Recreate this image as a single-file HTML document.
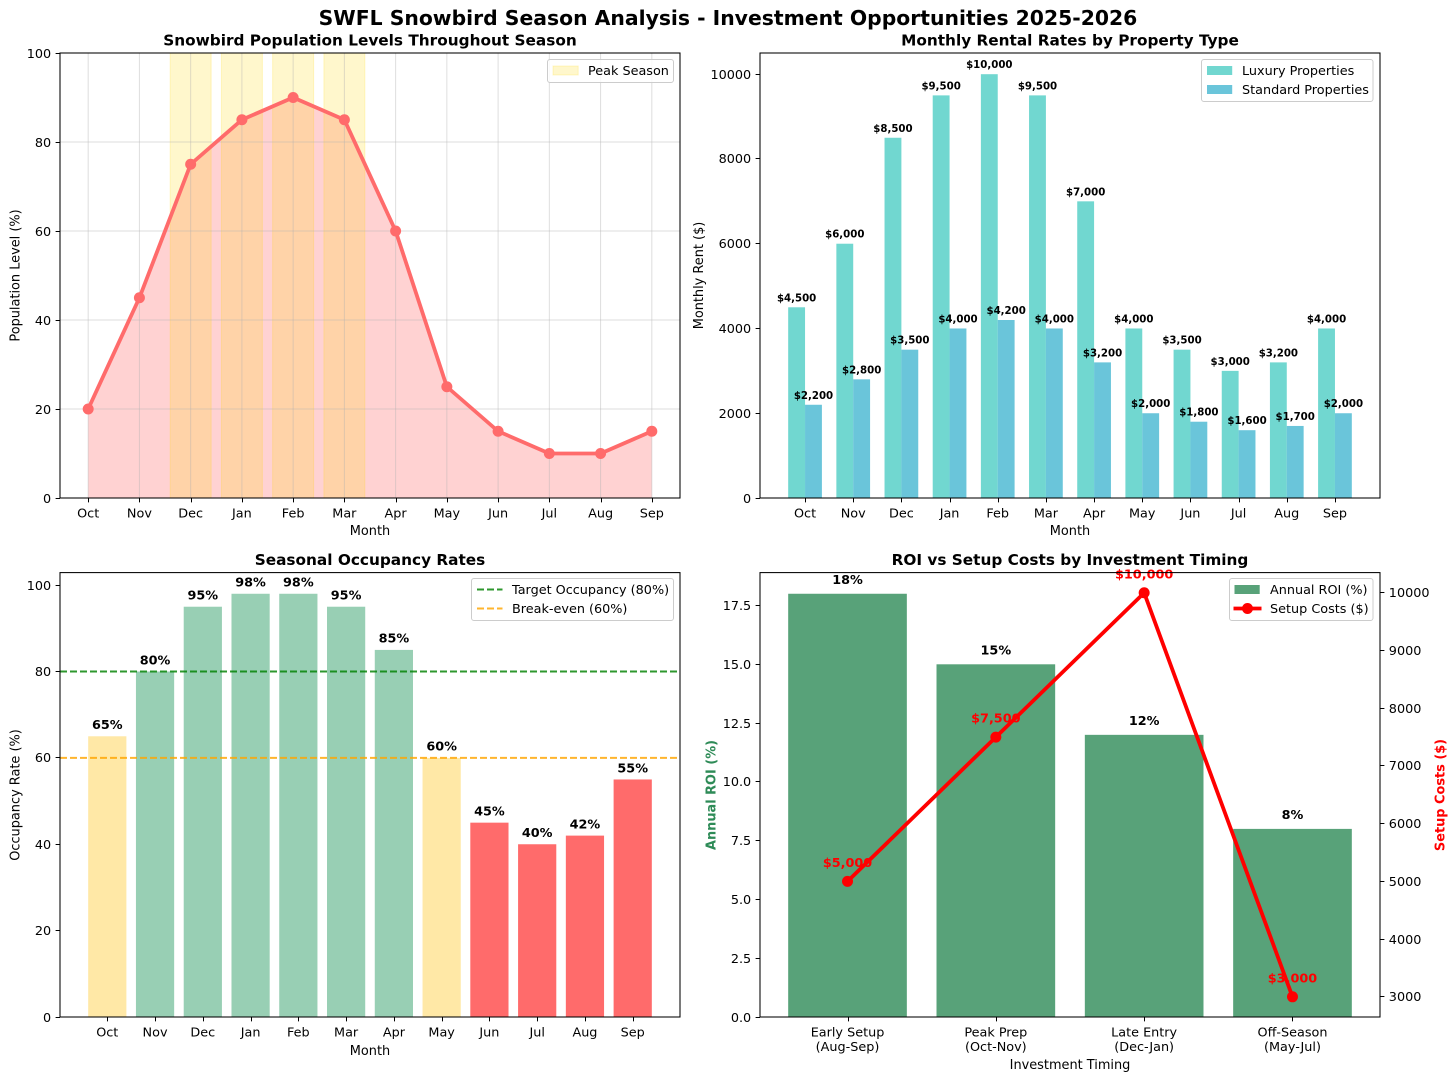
<!DOCTYPE html>
<html lang="en">
<head>
<meta charset="utf-8">
<title>SWFL Snowbird Season Analysis</title>
<style>
html,body{margin:0;padding:0;background:#fff;}
body{width:1456px;height:1081px;overflow:hidden;}
svg{display:block;font-family:"DejaVu Sans","Liberation Sans",sans-serif;fill:#000;}
text{white-space:pre;}
.tick{font-size:12.8px;}
.lab{font-size:12.9px;}
.ttl{font-size:15.3px;font-weight:bold;text-anchor:middle;}
.leg{font-size:12.8px;}
.spine{fill:none;stroke:#000;stroke-width:1.05;}
.box{fill:#fff;fill-opacity:.8;stroke:#ccc;stroke-width:1;}
</style>
</head>
<body>
<svg id="fig" xmlns="http://www.w3.org/2000/svg" width="1456" height="1081" viewBox="0 0 1456 1081">
  <rect x="0" y="0" width="1456" height="1081" fill="#fff"/>
  <g id="p1"></g>
  <g id="p2"></g>
  <g id="p3"></g>
  <g id="p4"></g>

  <text x="728" y="25" text-anchor="middle" style="font-size:20.35px;font-weight:bold">SWFL Snowbird Season Analysis - Investment Opportunities 2025-2026</text>

  <text class="ttl" x="370" y="45.5">Snowbird Population Levels Throughout Season</text>
  <text class="ttl" x="1070" y="45.5">Monthly Rental Rates by Property Type</text>
  <text class="ttl" x="370" y="565">Seasonal Occupancy Rates</text>
  <text class="ttl" x="1070" y="565">ROI vs Setup Costs by Investment Timing</text>

  <text class="lab" x="370" y="535" text-anchor="middle">Month</text>
  <text class="lab" x="1070" y="535" text-anchor="middle">Month</text>
  <text class="lab" x="370" y="1055" text-anchor="middle">Month</text>
  <text class="lab" x="1070" y="1069" text-anchor="middle">Investment Timing</text>

  <text class="lab" transform="translate(19.5,275.5) rotate(-90)" text-anchor="middle">Population Level (%)</text>
  <text class="lab" transform="translate(703,275.5) rotate(-90)" text-anchor="middle">Monthly Rent ($)</text>
  <text class="lab" transform="translate(19.5,795) rotate(-90)" text-anchor="middle">Occupancy Rate (%)</text>
  <text class="lab" transform="translate(715.5,795) rotate(-90)" text-anchor="middle" style="font-weight:bold;fill:#2E8B57">Annual ROI (%)</text>
  <text class="lab" transform="translate(1444.5,795) rotate(-90)" text-anchor="middle" style="font-weight:bold;fill:#f00">Setup Costs ($)</text>

  <g>
    <rect class="box" x="547.5" y="59.5" width="126" height="23" rx="2.5"/>
    <rect x="553" y="66" width="25.2" height="9" fill="#FFD700" fill-opacity=".2" stroke="#FFD700" stroke-opacity=".2"/>
    <text class="leg" x="588" y="75">Peak Season</text>
  </g>
  <g>
    <rect class="box" x="1201.5" y="59.5" width="171.5" height="42" rx="2.5"/>
    <rect x="1207" y="66" width="25.2" height="9" fill="#4ECDC4" fill-opacity=".8"/>
    <text class="leg" x="1242" y="75">Luxury Properties</text>
    <rect x="1207" y="85" width="25.2" height="9" fill="#45B7D1" fill-opacity=".8"/>
    <text class="leg" x="1242" y="94">Standard Properties</text>
  </g>
  <g>
    <rect class="box" x="471.5" y="578.5" width="202" height="42" rx="2.5"/>
    <line x1="477" x2="502.5" y1="589.5" y2="589.5" stroke="#008000" stroke-opacity=".82" stroke-width="1.9" stroke-dasharray="7 3"/>
    <text class="leg" x="512" y="594">Target Occupancy (80%)</text>
    <line x1="477" x2="502.5" y1="608.5" y2="608.5" stroke="#FFA500" stroke-opacity=".82" stroke-width="1.9" stroke-dasharray="7 3"/>
    <text class="leg" x="512" y="613">Break-even (60%)</text>
  </g>
  <g>
    <rect class="box" x="1229.5" y="578.5" width="143.5" height="42" rx="2.5"/>
    <rect x="1234.5" y="585" width="25.2" height="9" fill="#2E8B57" fill-opacity=".8"/>
    <text class="leg" x="1270" y="594">Annual ROI (%)</text>
    <line x1="1233.5" x2="1261.5" y1="608.5" y2="608.5" stroke="#f00" stroke-width="3.8"/>
    <circle cx="1247.5" cy="608.5" r="5.5" fill="#f00"/>
    <text class="leg" x="1270" y="613">Setup Costs ($)</text>
  </g>
</svg>
<script>
/* ---------- chart data ---------- */
const months = ['Oct','Nov','Dec','Jan','Feb','Mar','Apr','May','Jun','Jul','Aug','Sep'];
const population = [20,45,75,85,90,85,60,25,15,10,10,15];
const peakMonths = ['Dec','Jan','Feb','Mar'];
const populationTicks = [0,20,40,60,80,100];

const luxuryRent = [4500,6000,8500,9500,10000,9500,7000,4000,3500,3000,3200,4000];
const standardRent = [2200,2800,3500,4000,4200,4000,3200,2000,1800,1600,1700,2000];
const rentTicks = [0,2000,4000,6000,8000,10000];

const occupancy = [65,80,95,98,98,95,85,60,45,40,42,55];
const occupancyTarget = [80];
const occupancyBreakEven = [60];
const occupancyTicks = [0,20,40,60,80,100];

const timingLabels = [['Early Setup','(Aug-Sep)'],['Peak Prep','(Oct-Nov)'],['Late Entry','(Dec-Jan)'],['Off-Season','(May-Jul)']];
const roi = [18,15,12,8];
const setupCosts = [5000,7500,10000,3000];
const roiTicks = [0,2.5,5,7.5,10,12.5,15,17.5];
const setupTicks = [3000,4000,5000,6000,7000,8000,9000,10000];

/* ---------- helpers ---------- */
const NS = 'http://www.w3.org/2000/svg';
function mk(parent, tag, attrs, txt) {
  const el = document.createElementNS(NS, tag);
  for (const k in attrs) el.setAttribute(k, attrs[k]);
  if (txt !== undefined) el.textContent = txt;
  parent.appendChild(el);
  return el;
}
function linear(d0, d1, r0, r1) {
  return function (v) { return r0 + (v - d0) * (r1 - r0) / (d1 - d0); };
}
function extent(vals) {
  return [Math.min.apply(null, vals), Math.max.apply(null, vals)];
}
function padded(lo, hi) {
  const m = (hi - lo) * 0.05;
  return [lo - m, hi + m];
}
function money(v) {
  return '$' + v.toLocaleString('en-US');
}
const A = {
  top: { l: 60, r: 680, t: 53, b: 498 },
  bot: { l: 60, r: 680, t: 572.6, b: 1017 }
};
function yTicks(g, ticks, y, x0, fmt, side) {
  ticks.forEach(function (t) {
    const py = Math.floor(y(t)) + 0.5;
    const dir = side === 'right' ? 1 : -1;
    const tk = mk(g, 'line', { x1: x0, x2: x0 + dir * 4.4, y1: py, y2: py, stroke: '#000', 'stroke-width': 1 });
    
    
    const lb = mk(g, 'text', { class: 'tick', x: x0 + dir * 8.8, y: py + 4.6, 'text-anchor': side === 'right' ? 'start' : 'end' }, fmt(t));
    
    
  });
}
function xTicks(g, labels, x, y0) {
  labels.forEach(function (t, i) {
    const px = Math.round(x(i)) + 0.5;
    const tk = mk(g, 'line', { x1: px, x2: px, y1: y0, y2: y0 + 4.4, stroke: '#000', 'stroke-width': 1 });
    
    
    const lines = Array.isArray(t) ? t : [t];
    lines.forEach(function (s, j) {
      const lb = mk(g, 'text', { class: 'tick', x: x(i), y: y0 + 19.3 + j * 14.7, 'text-anchor': 'middle' }, s);
      
      
    });
  });
}
function spine(g, a, name) {
  const s = mk(g, 'rect', { class: 'spine', x: a.l, y: a.t, width: a.r - a.l, height: a.b - a.t });
  
  
}

/* ---------- panel 1: population ---------- */
(function () {
  const g = document.getElementById('p1');
  const a = A.top;
  const dom = padded(0, months.length - 1);
  const x = linear(dom[0], dom[1], a.l, a.r);
  const y = linear(0, 100, a.b, a.t);
  let area = 'M' + x(0) + ' ' + y(0);
  population.forEach(function (v, i) { area += 'L' + x(i) + ' ' + y(v); });
  area += 'L' + x(population.length - 1) + ' ' + y(0) + 'Z';
  const fillEl = mk(g, 'path', { d: area, fill: '#FF6B6B', 'fill-opacity': 0.3 });
  
  
  peakMonths.forEach(function (m) {
    const i = months.indexOf(m);
    const s = mk(g, 'rect', { x: x(i - 0.4), y: a.t, width: x(i + 0.4) - x(i - 0.4), height: a.b - a.t, fill: '#FFD700', 'fill-opacity': 0.2, stroke: '#FFD700', 'stroke-opacity': 0.2, 'stroke-width': 1 });
    
    
  });
  months.forEach(function (m, i) {
    const gl = mk(g, 'line', { x1: x(i), x2: x(i), y1: a.t, y2: a.b, stroke: '#b0b0b0', 'stroke-opacity': 0.42, 'stroke-width': 1 });
    
    
  });
  populationTicks.forEach(function (t) {
    const gl = mk(g, 'line', { x1: a.l, x2: a.r, y1: y(t), y2: y(t), stroke: '#b0b0b0', 'stroke-opacity': 0.42, 'stroke-width': 1 });
    
    
  });
  const ln = mk(g, 'polyline', { points: population.map(function (v, i) { return x(i) + ',' + y(v); }).join(' '), fill: 'none', stroke: '#FF6B6B', 'stroke-width': 3.8, 'stroke-linejoin': 'round' });
  
  
  population.forEach(function (v, i) {
    const c = mk(g, 'circle', { cx: x(i), cy: y(v), r: 5.5, fill: '#FF6B6B' });
    
    
  });
  spine(g, a, 'population-axes-frame');
  yTicks(g, populationTicks, y, a.l, String, 'left');
  xTicks(g, months, x, a.b);
})();

/* ---------- panel 2: rents ---------- */
(function () {
  const g = document.getElementById('p2');
  const a = { l: 760, r: 1380, t: A.top.t, b: A.top.b };
  const w = 0.35;
  const dom = padded(-w, months.length - 1 + w);
  const x = linear(dom[0], dom[1], a.l, a.r);
  const yMax = extent(luxuryRent.concat(standardRent))[1] * 1.05;
  const y = linear(0, yMax, a.b, a.t);
  luxuryRent.forEach(function (v, i) {
    const b = mk(g, 'rect', { x: x(i - w), y: y(v), width: x(i) - x(i - w), height: y(0) - y(v), fill: '#4ECDC4', 'fill-opacity': 0.8 });
    
    
  });
  standardRent.forEach(function (v, i) {
    const b = mk(g, 'rect', { x: x(i), y: y(v), width: x(i + w) - x(i), height: y(0) - y(v), fill: '#45B7D1', 'fill-opacity': 0.8 });
    
    
  });
  luxuryRent.forEach(function (v, i) {
    const t = mk(g, 'text', { x: x(i - w / 2), y: y(v) - 6, 'text-anchor': 'middle', 'font-size': 10.2, 'font-weight': 'bold' }, money(v));
    
    
  });
  standardRent.forEach(function (v, i) {
    const t = mk(g, 'text', { x: x(i + w / 2), y: y(v) - 6, 'text-anchor': 'middle', 'font-size': 10.2, 'font-weight': 'bold' }, money(v));
    
    
  });
  spine(g, a, 'rental-axes-frame');
  yTicks(g, rentTicks, y, a.l, String, 'left');
  xTicks(g, months, x, a.b);
})();

/* ---------- panel 3: occupancy ---------- */
(function () {
  const g = document.getElementById('p3');
  const a = A.bot;
  const w = 0.4;
  const dom = padded(-w, months.length - 1 + w);
  const x = linear(dom[0], dom[1], a.l, a.r);
  const yMax = extent(occupancy)[1] * 1.05;
  const y = linear(0, yMax, a.b, a.t);
  occupancy.forEach(function (v, i) {
    const col = v >= 80 ? '#98CFB4' : (v >= 60 ? '#FFE8A6' : '#FF6B6B');
    const b = mk(g, 'rect', { x: x(i - w), y: y(v), width: x(i + w) - x(i - w), height: y(0) - y(v), fill: col });
    
    
  });
  occupancy.forEach(function (v, i) {
    const t = mk(g, 'text', { x: x(i), y: y(v) - 7.2, 'text-anchor': 'middle', 'font-size': 12.8, 'font-weight': 'bold' }, v + '%');
    
    
  });
  occupancyTarget.forEach(function (v) {
    const l = mk(g, 'line', { x1: a.l, x2: a.r, y1: y(v), y2: y(v), stroke: '#008000', 'stroke-opacity': 0.82, 'stroke-width': 1.9, 'stroke-dasharray': '7 3' });
    
    
  });
  occupancyBreakEven.forEach(function (v) {
    const l = mk(g, 'line', { x1: a.l, x2: a.r, y1: y(v), y2: y(v), stroke: '#FFA500', 'stroke-opacity': 0.82, 'stroke-width': 1.9, 'stroke-dasharray': '7 3' });
    
    
  });
  spine(g, a, 'occupancy-axes-frame');
  yTicks(g, occupancyTicks, y, a.l, String, 'left');
  xTicks(g, months, x, a.b);
})();

/* ---------- panel 4: ROI vs setup ---------- */
(function () {
  const g = document.getElementById('p4');
  const a = { l: 760, r: 1380, t: A.bot.t, b: A.bot.b };
  const w = 0.4;
  const dom = padded(-w, roi.length - 1 + w);
  const x = linear(dom[0], dom[1], a.l, a.r);
  const y = linear(0, extent(roi)[1] * 1.05, a.b, a.t);
  const se = extent(setupCosts);
  const sd = padded(se[0], se[1]);
  const y2 = linear(sd[0], sd[1], a.b, a.t);
  roi.forEach(function (v, i) {
    const b = mk(g, 'rect', { x: x(i - w), y: y(v), width: x(i + w) - x(i - w), height: y(0) - y(v), fill: '#2E8B57', 'fill-opacity': 0.8 });
    
    
  });
  roi.forEach(function (v, i) {
    const t = mk(g, 'text', { x: x(i), y: y(v) - 10, 'text-anchor': 'middle', 'font-size': 12.8, 'font-weight': 'bold' }, v + '%');
    
    
  });
  const ln = mk(g, 'polyline', { points: setupCosts.map(function (v, i) { return x(i) + ',' + y2(v); }).join(' '), fill: 'none', stroke: '#f00', 'stroke-width': 3.8, 'stroke-linejoin': 'round' });
  
  
  setupCosts.forEach(function (v, i) {
    const c = mk(g, 'circle', { cx: x(i), cy: y2(v), r: 5.5, fill: '#f00' });
    
    
  });
  setupCosts.forEach(function (v, i) {
    const t = mk(g, 'text', { x: x(i), y: y2(v) - 14.5, 'text-anchor': 'middle', 'font-size': 12.8, 'font-weight': 'bold', fill: '#f00' }, money(v));
    
    
  });
  spine(g, a, 'roi-axes-frame');
  yTicks(g, roiTicks, y, a.l, function (t) { return t.toFixed(1); }, 'left');
  yTicks(g, setupTicks, y2, a.r, String, 'right');
  xTicks(g, timingLabels, x, a.b);
})();
</script>
</body>
</html>
